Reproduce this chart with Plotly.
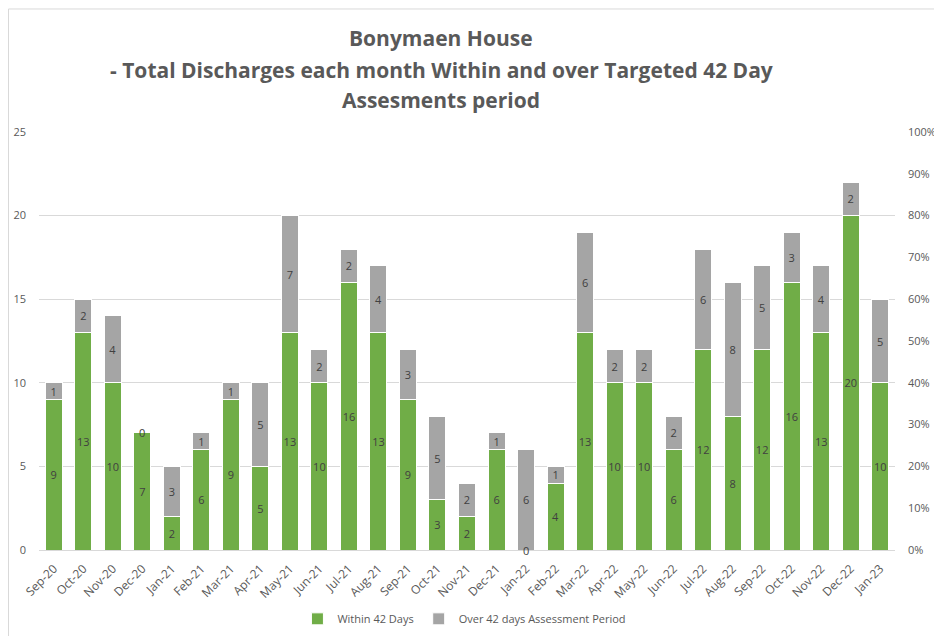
import plotly.graph_objects as go

months = ["Sep-20", "Oct-20", "Nov-20", "Dec-20", "Jan-21", "Feb-21", "Mar-21", "Apr-21",
          "May-21", "Jun-21", "Jul-21", "Aug-21", "Sep-21", "Oct-21", "Nov-21", "Dec-21",
          "Jan-22", "Feb-22", "Mar-22", "Apr-22", "May-22", "Jun-22", "Jul-22", "Aug-22",
          "Sep-22", "Oct-22", "Nov-22", "Dec-22", "Jan-23"]
within = [9, 13, 10, 7, 2, 6, 9, 5, 13, 10, 16, 13, 9, 3, 2, 6, 0, 4, 13, 10, 10, 6, 12, 8, 12, 16, 13, 20, 10]
over = [1, 2, 4, 0, 3, 1, 1, 5, 7, 2, 2, 4, 3, 5, 2, 1, 6, 1, 6, 2, 2, 2, 6, 8, 5, 3, 4, 2, 5]

left_ticks = [0, 5, 10, 15, 20, 25]
right_ticks = [i / 10 for i in range(11)]
title_lines = ["Bonymaen House",
               "- Total Discharges each month Within and over Targeted 42 Day",
               "Assesments period"]

FONT = "Open Sans"
TXT = "#595959"
LBL = "#404040"
GREEN = "#70AD47"
GREY = "#A5A5A5"

fig = go.Figure()
fig.add_trace(go.Bar(
    x=months, y=within, name="Within 42 Days",
    marker=dict(color=GREEN, line=dict(color="white", width=1)),
    text=[str(v) if v > 0 else "" for v in within],
    textposition="inside", insidetextanchor="middle", constraintext="none", textangle=0,
    textfont=dict(family=FONT, size=11, color=LBL),
))
fig.add_trace(go.Bar(
    x=months, y=over, name="Over 42 days Assessment Period",
    marker=dict(color=GREY, line=dict(color="white", width=1)),
    text=[str(v) if v > 0 else "" for v in over],
    textposition="inside", insidetextanchor="middle", constraintext="none", textangle=0,
    textfont=dict(family=FONT, size=11, color=LBL),
))
# invisible trace to anchor secondary axis
fig.add_trace(go.Scatter(x=[months[0]], y=[0], yaxis="y2", mode="markers",
                         marker=dict(opacity=0), showlegend=False, hoverinfo="skip"))

# zero labels (bars of zero height)
for m, w, o in zip(months, within, over):
    if w == 0:
        fig.add_annotation(x=m, y=0, text="0", showarrow=False, yanchor="middle",
                           font=dict(family=FONT, size=11, color=LBL))
    if o == 0:
        fig.add_annotation(x=m, y=w, text="0", showarrow=False, yanchor="middle",
                           font=dict(family=FONT, size=11, color=LBL))

# title lines (Excel-like wider line spacing)
for line, ypos in zip(title_lines, [1.2249, 1.1483, 1.0766]):
    fig.add_annotation(xref="paper", yref="paper", x=0.470, y=ypos, text="<b>" + line + "</b>",
                       showarrow=False, xanchor="center", yanchor="middle",
                       font=dict(family=FONT, size=21, color=TXT))

fig.update_layout(
    width=934, height=628,
    barmode="stack", bargap=0.424,
    paper_bgcolor="white", plot_bgcolor="white",
    margin=dict(l=31, r=47, t=124, b=86, autoexpand=False),
    font=dict(family=FONT, color=TXT),
    showlegend=True,
    xaxis=dict(
        range=[-0.5, len(months) - 0.5],
        tickangle=-45, tickfont=dict(size=12, color=TXT), automargin=False,
        showline=True, linecolor="#D9D9D9", linewidth=1, ticks="", ticklabelstandoff=6,
    ),
    yaxis=dict(
        range=[0, 25], tickvals=left_ticks, showgrid=True, gridcolor="#D9D9D9",
        zeroline=False, tickfont=dict(size=11, color=TXT), ticklabelstandoff=12,
        automargin=False,
    ),
    yaxis2=dict(
        overlaying="y", side="right", range=[0, 1], tickvals=right_ticks,
        tickformat=".0%", showgrid=False, zeroline=False, automargin=False,
        tickfont=dict(size=11, color=TXT), ticklabelstandoff=12,
    ),
    legend=dict(orientation="h", x=0.497, xanchor="center", y=-0.13, yanchor="top",
                font=dict(size=11, color=TXT), traceorder="normal"),
    shapes=[dict(type="rect", xref="paper", yref="paper",
                 x0=-0.0356, x1=1.08, y0=-0.25, y1=1.2943,
                 line=dict(color="#D9D9D9", width=1), fillcolor="rgba(0,0,0,0)", layer="below")],
)

fig.write_html("out.html")
